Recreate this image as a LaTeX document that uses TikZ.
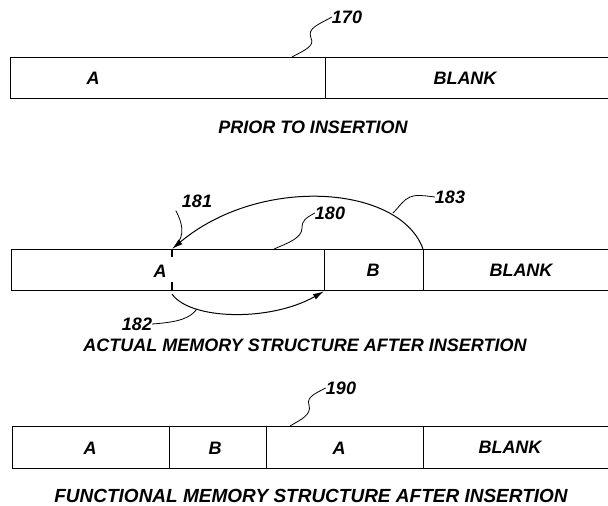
\documentclass[tikz,border=0pt]{standalone}
\usepackage{fontspec}
\setmainfont{Liberation Sans}
\usetikzlibrary{arrows.meta}
\begin{document}
\begin{tikzpicture}[x=1pt,y=-1pt,
  cell/.style={draw,line width=1.3pt,minimum height=41pt,inner sep=0pt,anchor=north west},
  txt/.style={font=\fontsize{18}{20}\selectfont\bfseries\itshape,inner sep=0pt},
  lead/.style={line width=0.8pt},
  arc/.style={line width=1pt,-{Latex[length=11pt,width=6pt]}}]
\path[use as bounding box] (0,0) rectangle (608,506);
% top bar
\node[cell,minimum width=315pt] (t1) at (10,57) {};
\node[cell,minimum width=300pt] (t2) at (325,57) {};
\node[txt] (tA) at (93,78) {A};
\node[txt] (tBl) at (465,78) {BLANK};
\node[txt] (l170) at (347,17) {170};
\node[txt] (cap1) at (313,127) {PRIOR TO INSERTION};
\coordinate (p170) at (292,57);
\draw[lead] (p170) .. controls (305,50) and (315,46) .. (311,38) .. controls (307,28) and (318,25) .. (l170.west);
% middle bar
\node[cell,minimum width=313pt,minimum height=41pt] (m1) at (11,249) {};
\node[cell,minimum width=99pt] (m2) at (324,249) {};
\node[cell,minimum width=200pt] (m3) at (423,249) {};
\node[txt] (mA) at (160,271) {A};
\node[txt] (mB) at (373,270) {B};
\node[txt] (mBl) at (521,270) {BLANK};
\coordinate (dtop) at (172,249);
\coordinate (dbot) at (172,290);
\draw[line width=1.3pt] (dtop) -- ++(0,8);
\draw[line width=1.3pt] (dbot) -- ++(0,-8);
\node[txt] (l181) at (197,201) {181};
\node[txt] (l180) at (330,213) {180};
\node[txt] (l183) at (450,197) {183};
\node[txt] (l182) at (137,324) {182};
\node[txt] (cap2) at (305,345) {ACTUAL MEMORY STRUCTURE AFTER INSERTION};
% arc 183
\draw[arc] (m3.north west) .. controls (400,185) and (260,175) .. (dtop);
\coordinate (a183) at (393,213);
\draw[lead] (a183) .. controls (400,206) and (403,200) .. (410,197) .. controls (415,195) and (420,195) .. (l183.west);
% leader 181
\draw[lead] (l181.south west) ++(-6,3) .. controls (182,222) and (186,236) .. (175,246);
% leader 180
\coordinate (p180) at (274,249);
\draw[lead] (p180) .. controls (288,243) and (302,238) .. (302,228) .. controls (302,220) and (306,218) .. (l180.west);
% arc 182
\draw[arc] (dbot) ++(0,4) .. controls (190,320) and (270,322) .. (m2.south west);
\coordinate (a182) at (197,309);
\draw[lead] (a182) .. controls (190,318) and (180,322) .. (l182.east);
% bottom bar
\node[cell,minimum width=157pt,minimum height=42pt] (b1) at (12,426) {};
\node[cell,minimum width=97pt,minimum height=42pt] (b2) at (169,426) {};
\node[cell,minimum width=157pt,minimum height=42pt] (b3) at (266,426) {};
\node[cell,minimum width=200pt,minimum height=42pt] (b4) at (423,426) {};
\node[txt] (bA1) at (90,448) {A};
\node[txt] (bB) at (215,448) {B};
\node[txt] (bA2) at (339,448) {A};
\node[txt] (bBl) at (510,447) {BLANK};
\node[txt] (l190) at (341,388) {190};
\coordinate (p190) at (290,426);
\draw[lead] (p190) .. controls (300,420) and (312,415) .. (309,405) .. controls (306,397) and (316,393) .. (l190.west);
\node[txt,font=\fontsize{19}{21}\selectfont\bfseries\itshape] (cap3) at (311,496) {FUNCTIONAL MEMORY STRUCTURE AFTER INSERTION};
\end{tikzpicture}
\end{document}
